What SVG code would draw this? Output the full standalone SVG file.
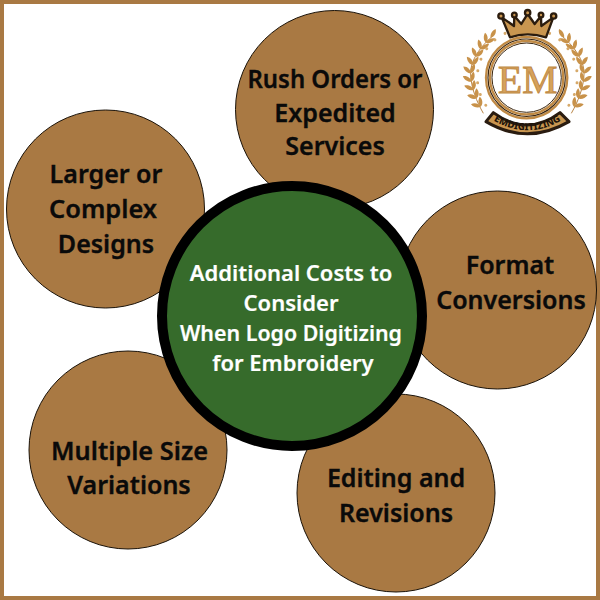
<svg xmlns="http://www.w3.org/2000/svg" width="600" height="600" viewBox="0 0 600 600">
<style>
.n{fill:#a97943;stroke:#1a1208;stroke-width:1}
.t{font-family:"Noto Sans","Open Sans",sans-serif;font-weight:600;font-size:25px;fill:#0a0a0a;text-anchor:middle;stroke:#0a0a0a;stroke-width:.35}
.c{font-family:"Noto Sans","Open Sans",sans-serif;font-weight:600;font-size:22px;fill:#fff;text-anchor:middle;stroke:#fff;stroke-width:.2}
.l{fill:#c8924a}
.d{fill:#d6a96a}
.k{fill:#c99650;stroke:#2b1c0e;stroke-width:7;stroke-linejoin:round}
</style>
<defs>
<path id="leaf" d="M0 0C5-9 18-12 29-8C23 3 8 6 0 0Z" class="l"/>
<circle id="dot" class="d" cx="230" cy="85" r="4.5"/>
<g id="wreath">
<path d="M128 108C80 150 60 190 62 225C64 265 80 305 100 340" fill="none" stroke="#b98545" stroke-width="3"/>
<use href="#leaf" transform="translate(108 128) rotate(-80)"/><use href="#leaf" transform="translate(108 128) rotate(-10)"/>
<use href="#leaf" transform="translate(92 148) rotate(-88)"/><use href="#leaf" transform="translate(92 148) rotate(-18)"/>
<use href="#leaf" transform="translate(78 170) rotate(-98)"/><use href="#leaf" transform="translate(78 170) rotate(-28)"/>
<use href="#leaf" transform="translate(68 195) rotate(-110)"/><use href="#leaf" transform="translate(68 195) rotate(-40)"/>
<use href="#leaf" transform="translate(62 220) rotate(-122)"/><use href="#leaf" transform="translate(62 220) rotate(-52)"/>
<use href="#leaf" transform="translate(64 245) rotate(-132)"/><use href="#leaf" transform="translate(64 245) rotate(-62)"/>
<use href="#leaf" transform="translate(70 270) rotate(-140)"/><use href="#leaf" transform="translate(70 270) rotate(-70)"/>
<use href="#leaf" transform="translate(80 295) rotate(-146)"/><use href="#leaf" transform="translate(80 295) rotate(-76)"/>
<use href="#leaf" transform="translate(92 320) rotate(-150)"/><use href="#leaf" transform="translate(92 320) rotate(-80)"/>
<use href="#leaf" transform="translate(122 113) rotate(-45)"/>
<use href="#dot" transform="rotate(-26 230 233)"/><use href="#dot" transform="rotate(-40 230 233)"/><use href="#dot" transform="rotate(-54 230 233)"/><use href="#dot" transform="rotate(-68 230 233)"/><use href="#dot" transform="rotate(-82 230 233)"/><use href="#dot" transform="rotate(-96 230 233)"/><use href="#dot" transform="rotate(-110 230 233)"/><use href="#dot" transform="rotate(-124 230 233)"/><use href="#dot" transform="rotate(-138 230 233)"/>
</g>
</defs>
<rect x="2" y="2" width="596" height="596" fill="#fff" stroke="#a97943" stroke-width="4"/>
<g id="logo" transform="translate(450 0) scale(.3333)">
<use href="#wreath"/>
<use href="#wreath" transform="translate(464 0) scale(-1 1)"/>
<path class="k" d="M180 112L155 52L192 78L193 48L214 72L233 42L254 72L273 48L274 78L310 52L288 112Q233 94 180 112Z"/>
<circle class="k" cx="153" cy="48" r="8"/><circle class="k" cx="193" cy="45" r="7"/><circle class="k" cx="233" cy="38" r="8"/><circle class="k" cx="273" cy="45" r="7"/><circle class="k" cx="311" cy="48" r="8"/>
<circle cx="230" cy="233" r="122" fill="#fff" stroke="#c08a45" stroke-width="7"/>
<circle cx="230" cy="233" r="116" fill="none" stroke="#3a2610" stroke-width="3.5"/>
<circle cx="230" cy="233" r="110" fill="none" stroke="#c08a45" stroke-width="7"/>
<circle cx="230" cy="233" r="104" fill="none" stroke="#3a2610" stroke-width="3"/>
<text x="233" y="278" font-family="Liberation Serif,serif" font-size="122" fill="#d6a25c" stroke="#c08a45" stroke-width="3" text-anchor="middle" textLength="178" lengthAdjust="spacingAndGlyphs">EM</text>
<path d="M130 338Q232 412 330 338L357 365Q232 438 108 365Z" fill="#c99650" stroke="#2a1c10" stroke-width="9" stroke-linejoin="round"/>
<path id="bn" d="M118 354Q232 428 346 354" fill="none"/>
<text font-family="Noto Sans,sans-serif" font-weight="800" font-size="29" fill="#1d130a"><textPath href="#bn" startOffset="50%" text-anchor="middle">EMDIGITIZING</textPath></text>
</g>
<g id="connectors"/>
<g id="node-rush"><circle class="n" cx="334.5" cy="109.5" r="99"/><text class="t"><tspan x="335" y="88" textLength="175" lengthAdjust="spacingAndGlyphs">Rush Orders or</tspan><tspan x="335" y="122">Expedited</tspan><tspan x="335" y="155">Services</tspan></text></g>
<g id="node-larger"><circle class="n" cx="105.5" cy="209" r="99"/><text class="t"><tspan x="106" y="183">Larger or</tspan><tspan x="103" y="218" textLength="108" lengthAdjust="spacingAndGlyphs">Complex</tspan><tspan x="106" y="253">Designs</tspan></text></g>
<g id="node-format"><circle class="n" cx="497.5" cy="290" r="99"/><text class="t"><tspan x="510" y="274">Format</tspan><tspan x="511" y="309">Conversions</tspan></text></g>
<g id="node-editing"><circle class="n" cx="396" cy="493" r="99"/><text class="t"><tspan x="396" y="487">Editing and</tspan><tspan x="396" y="522">Revisions</tspan></text></g>
<g id="node-multiple"><circle class="n" cx="128" cy="450" r="99"/><text class="t"><tspan x="129.500" y="460" textLength="157" lengthAdjust="spacingAndGlyphs">Multiple Size</tspan><tspan x="129" y="494">Variations</tspan></text></g>
<g id="node-center"><circle cx="292" cy="316" r="130" fill="#366b2b" stroke="#000" stroke-width="10"/><text class="c"><tspan x="291" y="281">Additional Costs to</tspan><tspan x="291" y="311">Consider</tspan><tspan x="291" y="341" textLength="222" lengthAdjust="spacingAndGlyphs">When Logo Digitizing</tspan><tspan x="293" y="371">for Embroidery</tspan></text></g>
</svg>
